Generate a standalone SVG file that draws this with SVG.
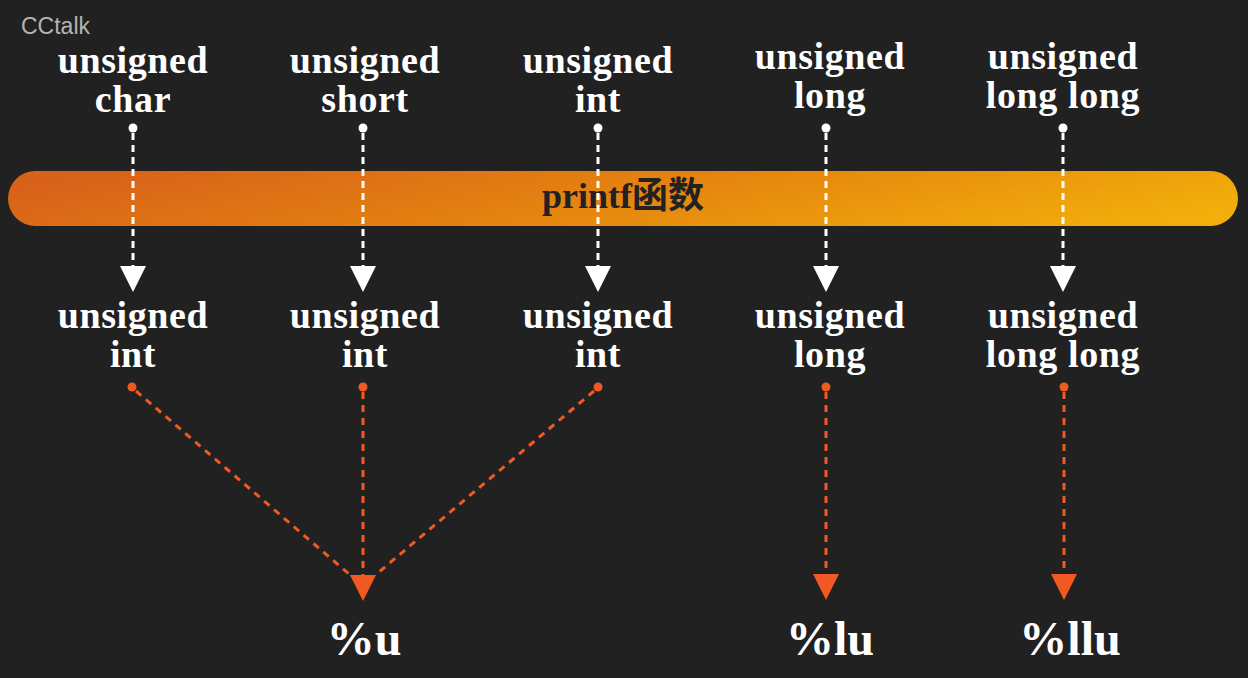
<svg xmlns="http://www.w3.org/2000/svg" width="1248" height="678" viewBox="0 0 1248 678">
  <style>
    .lbl { font-family: "Liberation Serif", "Noto Sans CJK SC", serif; font-weight: bold; font-size: 38px; fill: #ffffff; text-anchor: middle; letter-spacing: 0.6px; }
    .fmt { font-family: "Liberation Serif", serif; font-weight: bold; font-size: 48px; fill: #ffffff; text-anchor: middle; }
    .bar-t { font-family: "Liberation Serif", "Noto Sans CJK SC", serif; font-weight: bold; font-size: 36px; fill: #222222; text-anchor: middle; }
    .wl { stroke: #ffffff; stroke-width: 3; stroke-dasharray: 7 5; fill: none; }
    .ol { stroke: #f05a22; stroke-width: 3; stroke-dasharray: 7 6; fill: none; }
    .wd { fill: #ffffff; }
    .od { fill: #f05a22; }
  </style>
  <defs>
    <linearGradient id="barGrad" x1="0" y1="0.4" x2="1" y2="0.6">
      <stop offset="0" stop-color="#d8621a"/>
      <stop offset="0.5" stop-color="#e5850f"/>
      <stop offset="1" stop-color="#f2ae0a"/>
    </linearGradient>
  </defs>
  <rect width="1248" height="678" fill="#212121"/>
  <text x="21" y="34" font-family="Liberation Sans, sans-serif" font-size="23" fill="#b4b4b4">CCtalk</text>

  <g id="printf-bar">
    <rect x="8" y="171" width="1230" height="55" rx="27.5" fill="url(#barGrad)"/>
    <text class="bar-t" x="623" y="208">printf函数</text>
  </g>

  <g id="src-uchar"><text class="lbl" x="133" y="73">unsigned</text><text class="lbl" x="133" y="112">char</text></g>
  <g id="src-ushort"><text class="lbl" x="365" y="73">unsigned</text><text class="lbl" x="365" y="112">short</text></g>
  <g id="src-uint"><text class="lbl" x="598" y="73">unsigned</text><text class="lbl" x="598" y="112">int</text></g>
  <g id="src-ulong"><text class="lbl" x="830" y="69">unsigned</text><text class="lbl" x="830" y="108">long</text></g>
  <g id="src-ulonglong"><text class="lbl" x="1063" y="69">unsigned</text><text class="lbl" x="1063" y="108">long long</text></g>

  <g id="dst-uint1"><text class="lbl" x="133" y="328">unsigned</text><text class="lbl" x="133" y="367">int</text></g>
  <g id="dst-uint2"><text class="lbl" x="365" y="328">unsigned</text><text class="lbl" x="365" y="367">int</text></g>
  <g id="dst-uint3"><text class="lbl" x="598" y="328">unsigned</text><text class="lbl" x="598" y="367">int</text></g>
  <g id="dst-ulong"><text class="lbl" x="830" y="328">unsigned</text><text class="lbl" x="830" y="367">long</text></g>
  <g id="dst-ulonglong"><text class="lbl" x="1063" y="328">unsigned</text><text class="lbl" x="1063" y="367">long long</text></g>

  <g id="fmt-u"><text class="fmt" x="364" y="655">%u</text></g>
  <g id="fmt-lu"><text class="fmt" x="830" y="655">%lu</text></g>
  <g id="fmt-llu"><text class="fmt" x="1070" y="655">%llu</text></g>

  <g id="connectors">
    <!-- white: type promotion through printf -->
    <circle class="wd" cx="133" cy="128" r="4.5"/>
    <line class="wl" x1="133" y1="133" x2="133" y2="267"/>
    <polygon class="wd" points="120,266 146,266 133,292"/>

    <circle class="wd" cx="363" cy="128" r="4.5"/>
    <line class="wl" x1="363" y1="133" x2="363" y2="267"/>
    <polygon class="wd" points="350,266 376,266 363,292"/>

    <circle class="wd" cx="598" cy="128" r="4.5"/>
    <line class="wl" x1="598" y1="133" x2="598" y2="267"/>
    <polygon class="wd" points="585,266 611,266 598,292"/>

    <circle class="wd" cx="826" cy="128" r="4.5"/>
    <line class="wl" x1="826" y1="133" x2="826" y2="267"/>
    <polygon class="wd" points="813,266 839,266 826,292"/>

    <circle class="wd" cx="1063" cy="128" r="4.5"/>
    <line class="wl" x1="1063" y1="133" x2="1063" y2="267"/>
    <polygon class="wd" points="1050,266 1076,266 1063,292"/>

    <!-- orange: format specifiers -->
    <circle class="od" cx="132" cy="387" r="4.5"/>
    <line class="ol" x1="136" y1="391" x2="349" y2="574"/>
    <circle class="od" cx="363" cy="387" r="4.5"/>
    <line class="ol" x1="363" y1="392" x2="363" y2="576"/>
    <circle class="od" cx="598" cy="387" r="4.5"/>
    <line class="ol" x1="594" y1="391" x2="379" y2="572"/>
    <polygon class="od" points="350,575 376,575 363,601"/>

    <circle class="od" cx="826" cy="387" r="4.5"/>
    <line class="ol" x1="826" y1="392" x2="826" y2="575"/>
    <polygon class="od" points="813,574 839,574 826,600"/>

    <circle class="od" cx="1064" cy="387" r="4.5"/>
    <line class="ol" x1="1064" y1="392" x2="1064" y2="575"/>
    <polygon class="od" points="1051,574 1077,574 1064,600"/>
  </g>
</svg>
